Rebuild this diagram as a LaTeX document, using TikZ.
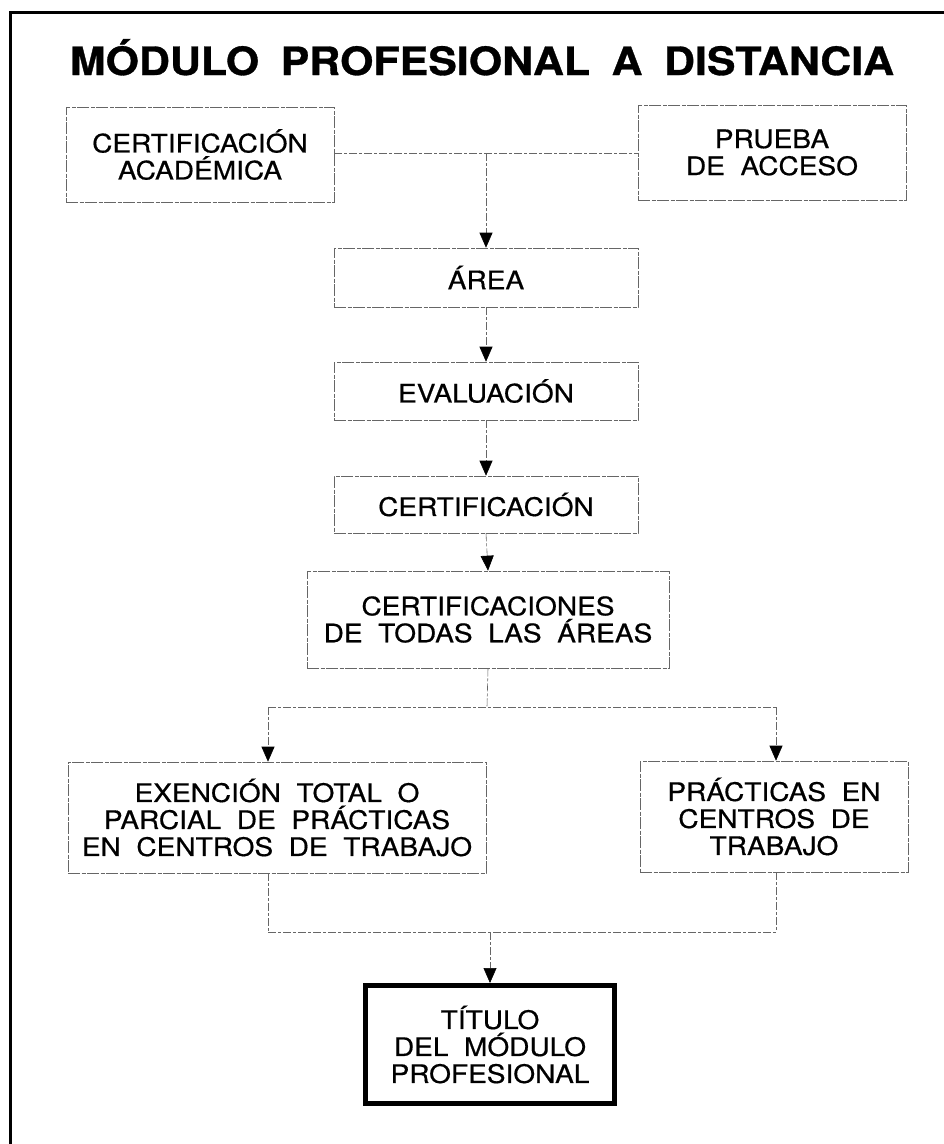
\documentclass[tikz,border=0pt]{standalone}
\usepackage{fontspec}
\setmainfont{TeX Gyre Heros}[FakeStretch=1.1,WordSpace=2]
\newfontfamily\boxfont{TeX Gyre Heros}[FakeStretch=1.1,WordSpace=2,FakeBold=0.6]
\newfontfamily\titlefont{TeX Gyre Heros Bold}[FakeStretch=1.1,WordSpace=1.8,FakeBold=0.8]
\usetikzlibrary{arrows.meta}
\begin{document}
\begin{tikzpicture}[x=1pt,y=-1pt,
  box/.style={draw=black!60, line width=0.6pt, dash pattern=on 12pt off 1.5pt on 4pt off 1.5pt,
    inner sep=0pt, align=center, font=\boxfont\fontsize{25.5}{27}\selectfont},
  finalbox/.style={draw=black, line width=5pt, inner sep=0pt, align=center,
    font=\boxfont\fontsize{25.5}{27}\selectfont},
  conn/.style={draw=black!60, line width=0.6pt, dash pattern=on 8pt off 2pt on 3pt off 2pt},
  arr/.style={conn, -{Triangle[width=13pt,length=15pt,color=black]}},
  frame/.style={draw=black, line width=3pt}]
\useasboundingbox (0,0) rectangle (944,1144);
\fill[white] (0,0) rectangle (944,1144);
% frame
\draw[frame] (10,1144) -- (10,12) -- (944,12);
% title
\node[anchor=base, font=\titlefont\fontsize{39}{44}\selectfont, inner sep=0pt] (title) at (482,75) {MÓDULO PROFESIONAL A DISTANCIA};
% boxes
\node[box, minimum width=268pt, minimum height=95pt] (acad) at (200,154.5) {CERTIFICACIÓN\\ACADÉMICA};
\node[box, minimum width=268pt, minimum height=95pt] (prueba) at (772,152.5) {PRUEBA\\DE ACCESO};
\node[box, minimum width=304pt, minimum height=59pt] (area) at (486,277.5) {ÁREA};
\node[box, minimum width=304pt, minimum height=58pt] (eval) at (486,391) {EVALUACIÓN};
\node[box, minimum width=304pt, minimum height=57pt] (cert) at (486,504.5) {CERTIFICACIÓN};
\node[box, minimum width=362pt, minimum height=97pt] (certs) at (488,619.5) {CERTIFICACIONES\\DE TODAS LAS ÁREAS};
\node[box, minimum width=418pt, minimum height=111pt] (exen) at (277,817.5) {EXENCIÓN TOTAL O\\PARCIAL DE PRÁCTICAS\\EN CENTROS DE TRABAJO};
\node[box, minimum width=268pt, minimum height=111pt] (prac) at (774,816.5) {PRÁCTICAS EN\\CENTROS DE\\TRABAJO};
\node[finalbox, minimum width=249pt, minimum height=118pt] (titulo) at (490,1044.5) {TÍTULO\\DEL MÓDULO\\PROFESIONAL};
% connectors
\coordinate (j1) at (486,153);
\draw[conn] (acad.east |- j1) -- (prueba.west |- j1);
\draw[arr] (j1) -- (area.north);
\draw[arr] (area.south) -- (eval.north);
\draw[arr] (eval.south) -- (cert.north);
\draw[arr] (cert.south) -- (certs.north);
\coordinate (j2) at (487,707);
\coordinate (j2l) at (268,707);
\coordinate (j2r) at (776,707);
\draw[conn] (certs.south) -- (j2);
\draw[conn] (j2l) -- (j2r);
\draw[arr] (j2l) -- (j2l |- exen.north);
\draw[arr] (j2r) -- (j2r |- prac.north);
\coordinate (j3l) at (268,932);
\coordinate (j3r) at (776,932);
\coordinate (j3) at (490,932);
\draw[conn] (j3l |- exen.south) -- (j3l);
\draw[conn] (j3r |- prac.south) -- (j3r);
\draw[conn] (j3l) -- (j3r);
\draw[arr] (j3) -- (titulo.north);
\end{tikzpicture}
\end{document}
